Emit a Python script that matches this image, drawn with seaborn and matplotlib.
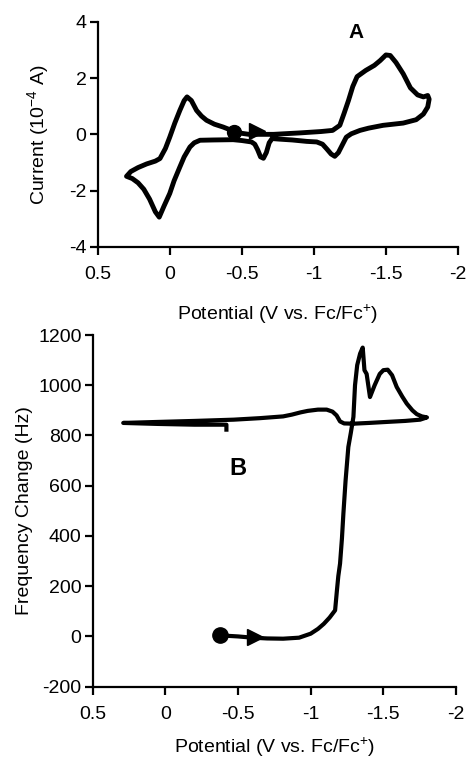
import matplotlib
matplotlib.use("Agg")
import matplotlib.pyplot as plt
import seaborn as sns
import pandas as pd

# --- data ---
# A: cyclic voltammogram, potential (V vs Fc/Fc+) and current (1e-4 A)
cv_E = [-0.44, -0.55, -0.72, -0.90, -1.05, -1.13, -1.18, -1.21, -1.24, -1.27, -1.30, -1.36,
        -1.42, -1.46, -1.50, -1.53, -1.57, -1.62, -1.67, -1.72, -1.76, -1.79, -1.80, -1.79,
        -1.76, -1.71, -1.62, -1.48, -1.38, -1.32, -1.26, -1.225, -1.20, -1.17, -1.145, -1.12,
        -1.09, -1.06, -1.02, -0.95, -0.85, -0.76, -0.71, -0.69, -0.67, -0.65, -0.63, -0.61,
        -0.59, -0.567, -0.50, -0.44, -0.30, -0.21, -0.17, -0.14, -0.10, -0.07, -0.03, 0.00,
        0.04, 0.073, 0.10, 0.14, 0.18, 0.22, 0.26, 0.30, 0.27, 0.22, 0.16, 0.10, 0.068, 0.03,
        0.00, -0.035, -0.07, -0.10, -0.12, -0.15, -0.186, -0.22, -0.255, -0.31, -0.37, -0.44]
cv_I = [0.08, 0.0, 0.0, 0.05, 0.10, 0.14, 0.32, 0.75, 1.2, 1.7, 2.05, 2.27,
        2.45, 2.62, 2.82, 2.80, 2.55, 2.15, 1.65, 1.40, 1.33, 1.38, 1.25, 0.97,
        0.72, 0.52, 0.40, 0.32, 0.22, 0.14, 0.02, -0.10, -0.35, -0.65, -0.78, -0.70,
        -0.52, -0.35, -0.27, -0.25, -0.20, -0.17, -0.15, -0.30, -0.65, -0.85, -0.80, -0.55,
        -0.35, -0.27, -0.22, -0.19, -0.20, -0.21, -0.30, -0.45, -0.80, -1.16, -1.65, -2.10,
        -2.55, -2.94, -2.75, -2.30, -1.95, -1.72, -1.57, -1.49, -1.32, -1.18, -1.05, -0.95, -0.86, -0.50,
        -0.10, 0.40, 0.85, 1.20, 1.33, 1.20, 0.85, 0.65, 0.50, 0.36, 0.26, 0.12]
cv_start = (-0.445, 0.10)
cv_arrow = (-0.607, 0.12)

# B: EQCM frequency change (Hz)
qcm_E = [-0.38, -0.50, -0.60, -0.70, -0.81, -0.92, -1.00, -1.05, -1.09, -1.13, -1.168, -1.18,
         -1.19, -1.202, -1.215, -1.225, -1.24, -1.259, -1.276, -1.294, -1.305, -1.32, -1.34,
         -1.358, -1.37, -1.385, -1.408, -1.44, -1.475, -1.50, -1.53, -1.56, -1.592, -1.63,
         -1.661, -1.70, -1.73, -1.765, -1.80, -1.753, -1.65, -1.523, -1.40, -1.294, -1.23,
         -1.202, -1.178, -1.15, -1.11, -1.05, -0.98, -0.93, -0.87, -0.81, -0.65, -0.47, -0.20,
         0.05, 0.29, 0.05, -0.20, -0.42, -0.42]
qcm_df = [4, 0, -5, -8, -9, -5, 11, 30, 50, 75, 104, 180,
          240, 290, 390, 489, 620, 754, 810, 874, 1000, 1080, 1126,
          1150, 1060, 1045, 953, 1000, 1045, 1060, 1062, 1040, 993, 955,
          927, 900, 885, 876, 872, 863, 858, 854, 850, 847, 848,
          856, 880, 895, 903, 903, 898, 892, 883, 876, 869, 863, 858,
          854, 850, 846, 843, 843, 815]
qcm_start = (-0.376, 4)
qcm_arrow = (-0.615, -3)

x_ticks = [0.5, 0, -0.5, -1, -1.5, -2]
x_ticklabels = ["0.5", "0", "-0.5", "-1", "-1.5", "-2"]
cv_yticks = [-4, -2, 0, 2, 4]
qcm_yticks = [-200, 0, 200, 400, 600, 800, 1000, 1200]

sns.set_theme(style="ticks")
plt.rcParams["font.family"] = ["Liberation Sans", "DejaVu Sans"]
plt.rcParams["mathtext.default"] = "regular"
plt.rcParams["axes.unicode_minus"] = False

fs = 14
fig = plt.figure(figsize=(4.69, 7.59), dpi=100)
ax1 = fig.add_axes([0.2083, 0.6746, 0.7682, 0.2968])
ax2 = fig.add_axes([0.1977, 0.0953, 0.7746, 0.4633])

cv = pd.DataFrame({"E": cv_E, "I": cv_I})
sns.lineplot(data=cv, x="E", y="I", sort=False, estimator=None, color="black",
             lw=3.5, ax=ax1, solid_joinstyle="round", solid_capstyle="round")
ax1.plot(*cv_start, marker="o", ms=10, color="black")
ax1.plot(*cv_arrow, marker=">", ms=11, color="black")

qcm = pd.DataFrame({"E": qcm_E, "df": qcm_df})
sns.lineplot(data=qcm, x="E", y="df", sort=False, estimator=None, color="black",
             lw=3.0, ax=ax2, solid_joinstyle="round", solid_capstyle="butt")
ax2.plot(*qcm_start, marker="o", ms=11, color="black")
ax2.plot(*qcm_arrow, marker=">", ms=11, color="black")

for ax, yt in ((ax1, cv_yticks), (ax2, qcm_yticks)):
    ax.set_xlim(0.5, -2)
    ax.set_ylim(yt[0], yt[-1])
    ax.set_xticks(x_ticks)
    ax.set_xticklabels(x_ticklabels)
    ax.set_yticks(yt)
    ax.set_yticklabels([str(v) for v in yt])
    sns.despine(ax=ax)
    for s in ("left", "bottom"):
        ax.spines[s].set_linewidth(1.6)
        ax.spines[s].set_color("black")
    ax.tick_params(axis="both", direction="out", length=6, width=1.6, color="black",
                   labelsize=fs, labelcolor="black")
    ax.tick_params(axis="x", pad=8)
    ax.tick_params(axis="y", pad=2)

ax1.set_xlabel("Potential (V vs. Fc/Fc$^{+}$)", fontsize=fs, color="black", labelpad=14)
ax2.set_xlabel("Potential (V vs. Fc/Fc$^{+}$)", fontsize=fs, color="black", labelpad=9)
ax1.set_ylabel("Current (10$^{-4}$ A)", fontsize=fs, color="black", labelpad=13)
ax2.set_ylabel("Frequency Change (Hz)", fontsize=fs, color="black", labelpad=4)

ax1.text(-1.29, 3.62, "A", fontsize=15, fontweight="bold", color="black",
         ha="center", va="center")
ax2.text(-0.50, 669, "B", fontsize=17, fontweight="bold", color="black",
         ha="center", va="center")

fig.savefig("out.png", dpi=100)
